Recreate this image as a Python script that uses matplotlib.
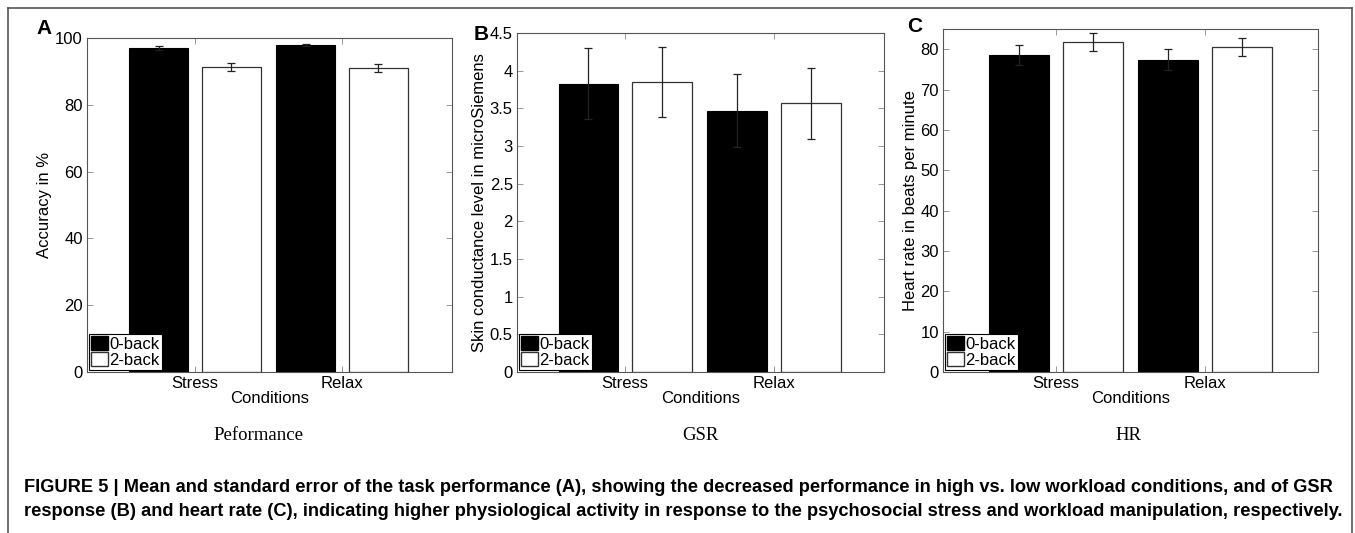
import matplotlib.pyplot as plt
import numpy as np
from matplotlib.patches import Patch
from matplotlib.lines import Line2D

plt.rcParams['font.family'] = ['Liberation Sans', 'DejaVu Sans']

conditions = ['Stress', 'Relax']
legend_labels = ['0-back', '2-back']

# panel A: accuracy
acc_0back = [97.0, 98.0]
acc_0back_err = [0.5, 0.3]
acc_2back = [91.2, 91.1]
acc_2back_err = [1.2, 1.2]

# panel B: skin conductance
gsr_0back = [3.83, 3.47]
gsr_0back_err = [0.47, 0.48]
gsr_2back = [3.85, 3.57]
gsr_2back_err = [0.47, 0.47]

# panel C: heart rate
hr_0back = [78.6, 77.5]
hr_0back_err = [2.4, 2.5]
hr_2back = [81.9, 80.6]
hr_2back_err = [2.3, 2.3]

panels = [
    dict(letter='A', rect=[0.0642, 0.302, 0.2694, 0.6266], ylim=(0, 100),
         yticks=[0, 20, 40, 60, 80, 100], yticklabels=None, xlim=(0.265, 2.748),
         ylabel='Accuracy in %', sub='Peformance', subx=0.191,
         v0=acc_0back, e0=acc_0back_err, v2=acc_2back, e2=acc_2back_err,
         letter_xy=(44, 28)),
    dict(letter='B', rect=[0.3815, 0.302, 0.2708, 0.636], ylim=(0, 4.5),
         yticks=[0, 0.5, 1, 1.5, 2, 2.5, 3, 3.5, 4, 4.5],
         yticklabels=['0', '0.5', '1', '1.5', '2', '2.5', '3', '3.5', '4', '4.5'],
         xlim=(0.273, 2.738),
         ylabel='Skin conductance level in microSiemens', sub='GSR', subx=0.517,
         v0=gsr_0back, e0=gsr_0back_err, v2=gsr_2back, e2=gsr_2back_err,
         letter_xy=(481, 34)),
    dict(letter='C', rect=[0.696, 0.302, 0.2768, 0.643], ylim=(0, 85),
         yticks=[0, 10, 20, 30, 40, 50, 60, 70, 80], yticklabels=None,
         xlim=(0.245, 2.757),
         ylabel='Heart rate in beats per minute', sub='HR', subx=0.833,
         v0=hr_0back, e0=hr_0back_err, v2=hr_2back, e2=hr_2back_err,
         letter_xy=(915, 27)),
]

W, H = 1355, 533
fig = plt.figure(figsize=(W / 100, H / 100), dpi=100)

x = np.arange(1, len(conditions) + 1)
width = 0.40
off = 0.247
fs = 12

for p in panels:
    ax = fig.add_axes(p['rect'])
    ax.bar(x - off, p['v0'], width, color='black', edgecolor='black', linewidth=0.8, zorder=2)
    ax.bar(x + off, p['v2'], width, color='white', edgecolor='#333333', linewidth=0.9, zorder=2)
    ax.errorbar(x - off, p['v0'], yerr=p['e0'], fmt='none', ecolor='#222222',
                elinewidth=0.9, capsize=3, capthick=0.9, zorder=3)
    ax.errorbar(x + off, p['v2'], yerr=p['e2'], fmt='none', ecolor='#222222',
                elinewidth=0.9, capsize=3, capthick=0.9, zorder=3)
    ax.set_xlim(*p['xlim'])
    ax.set_ylim(*p['ylim'])
    ax.set_xticks(x)
    ax.set_xticklabels(conditions)
    ax.set_yticks(p['yticks'])
    if p['yticklabels'] is not None:
        ax.set_yticklabels(p['yticklabels'])
    ax.tick_params(direction='in', length=4, width=0.6, color='#888888',
                   labelsize=fs, top=True, right=True, pad=3)
    for s in ax.spines.values():
        s.set_color('#555555')
        s.set_linewidth(0.8)
    ax.set_xlabel('Conditions', fontsize=fs, labelpad=0)
    ax.set_ylabel(p['ylabel'], fontsize=fs, labelpad=2)

    handles = [Patch(facecolor='black', edgecolor='black'),
               Patch(facecolor='white', edgecolor='#333333')]
    leg = ax.legend(handles, legend_labels, loc='lower left', fontsize=fs,
                    handlelength=1.0, handleheight=0.9, handletextpad=0.1,
                    borderpad=0.12, labelspacing=0.02, borderaxespad=0.12,
                    fancybox=False, framealpha=1)
    leg.get_frame().set_edgecolor('black')
    leg.get_frame().set_linewidth(0.8)

    lx, ly = p['letter_xy']
    fig.text(lx / W, 1 - ly / H, p['letter'], fontsize=15, fontweight='bold',
             ha='center', va='center')
    fig.text(p['subx'], 1 - 436 / H, p['sub'], fontsize=13.5,
             family=['Liberation Serif', 'DejaVu Serif'], ha='center', va='center')

caption1 = ('FIGURE 5 | Mean and standard error of the task performance (A), showing the decreased '
            'performance in high vs. low workload conditions, and of GSR')
caption2 = ('response (B) and heart rate (C), indicating higher physiological activity in response '
            'to the psychosocial stress and workload manipulation, respectively.')
fig.text(24 / W, 1 - 487 / H, caption1, fontsize=13.15, fontweight='bold', ha='left', va='center')
fig.text(24 / W, 1 - 511 / H, caption2, fontsize=13.15, fontweight='bold', ha='left', va='center')

# frame lines at top, left and right
fig.add_artist(Line2D([8 / W, 1352 / W], [1 - 7.5 / H, 1 - 7.5 / H], color='#555555', lw=1.2))
fig.add_artist(Line2D([8 / W, 8 / W], [0, 1 - 7.5 / H], color='#555555', lw=1.2))
fig.add_artist(Line2D([1352 / W, 1352 / W], [0, 1 - 7.5 / H], color='#555555', lw=1.2))

fig.savefig('out.png', dpi=100)
plt.close(fig)
